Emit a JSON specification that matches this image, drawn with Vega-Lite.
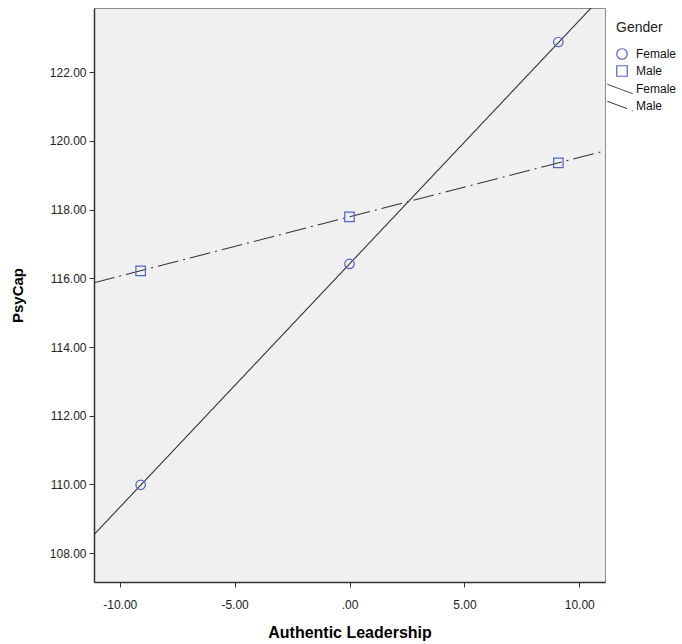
{
  "$schema": "https://vega.github.io/schema/vega-lite/v6.json",
  "width": 511,
  "height": 574,
  "autosize": {"type": "none"},
  "padding": {"left": 94, "top": 8, "right": 77, "bottom": 62},
  "background": "white",
  "config": {
    "font": "Liberation Sans",
    "view": {"fill": "#f0f0f0", "stroke": "#8c8c8c", "strokeWidth": 1}
  },
  "datasets": {
    "points": [
      {"Gender": "Female", "x": -9.09, "y": 109.99},
      {"Gender": "Female", "x": 0, "y": 116.42},
      {"Gender": "Female", "x": 9.09, "y": 122.88},
      {"Gender": "Male", "x": -9.09, "y": 116.22},
      {"Gender": "Male", "x": 0, "y": 117.79},
      {"Gender": "Male", "x": 9.09, "y": 119.36}
    ],
    "lines": [
      {"Fit": "Female", "x": -11.12, "y": 108.54},
      {"Fit": "Female", "x": 11.12, "y": 124.3},
      {"Fit": "Male", "x": -11.12, "y": 115.87},
      {"Fit": "Male", "x": 11.12, "y": 119.71}
    ]
  },
  "layer": [
    {
      "data": {"name": "lines"},
      "mark": {"type": "line", "clip": true, "color": "#333333", "strokeWidth": 1.1},
      "encoding": {
        "x": {
          "field": "x", "type": "quantitative",
          "scale": {"domain": [-11.12, 11.12], "nice": false, "zero": false},
          "axis": {
            "values": [-10, -5, 0, 5, 10],
            "labelExpr": "datum.value == 0 ? '.00' : (datum.value < 0 ? '-' + format(-datum.value, '.2f') : format(datum.value, '.2f'))",
            "title": "Authentic Leadership",
            "titleFontSize": 16, "titleFontWeight": "bold", "titleColor": "#000000",
            "titlePadding": 14,
            "labelFontSize": 12, "labelColor": "#222222", "labelPadding": 12,
            "tickSize": 5, "tickColor": "#333333",
            "domainColor": "#333333", "domainWidth": 1.5,
            "grid": false
          }
        },
        "y": {
          "field": "y", "type": "quantitative",
          "scale": {"domain": [107.16, 123.87], "nice": false, "zero": false},
          "axis": {
            "values": [108, 110, 112, 114, 116, 118, 120, 122],
            "labelExpr": "format(datum.value, '.2f')",
            "title": "PsyCap",
            "titleFontSize": 15, "titleFontWeight": "bold", "titleColor": "#000000",
            "titlePadding": 24,
            "labelFontSize": 12, "labelColor": "#222222", "labelPadding": 3,
            "tickSize": 5, "tickColor": "#333333",
            "domainColor": "#333333", "domainWidth": 1.5,
            "grid": false
          }
        },
        "strokeDash": {
          "field": "Fit", "type": "nominal",
          "scale": {"range": [[1, 0], [21, 5, 2, 5]]},
          "legend": {
            "title": null,
            "orient": "none", "legendX": 520, "legendY": 75,
            "symbolType": "M-2.3,-0.85L2.3,0.85",
            "symbolSize": 121,
            "symbolStrokeColor": "#333333",
            "symbolStrokeWidth": 1,
            "labelOffset": 10,
            "labelFontSize": 12,
            "labelColor": "#111111",
            "rowPadding": 3
          }
        }
      }
    },
    {
      "data": {"name": "points"},
      "mark": {"type": "point", "filled": false, "color": "#4f63cc", "size": 90, "strokeWidth": 1.2, "opacity": 1},
      "encoding": {
        "x": {"field": "x", "type": "quantitative"},
        "y": {"field": "y", "type": "quantitative"},
        "shape": {
          "field": "Gender", "type": "nominal",
          "scale": {"range": ["circle", "square"]},
          "legend": {
            "title": "Gender",
            "orient": "none", "legendX": 522, "legendY": 13,
            "titleFontSize": 14, "titleFontWeight": "normal", "titleColor": "#222222",
            "titlePadding": 13,
            "labelFontSize": 12, "labelColor": "#111111",
            "symbolSize": 110, "symbolStrokeWidth": 1.2, "symbolOpacity": 1,
            "symbolStrokeColor": "#4f63cc", "symbolFillColor": "transparent",
            "rowPadding": 1, "labelOffset": 8
          }
        }
      }
    }
  ]
}
